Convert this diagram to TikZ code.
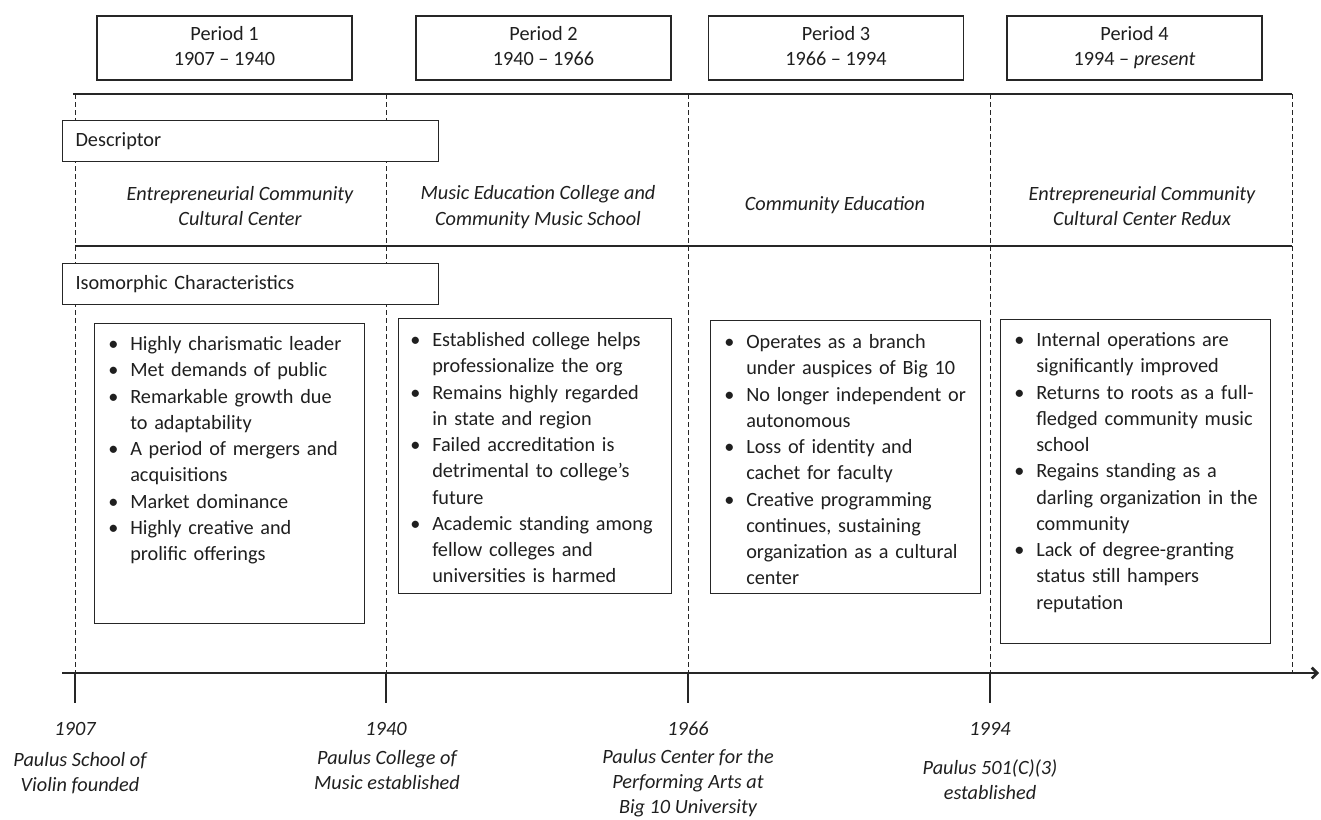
\documentclass[tikz,border=0pt]{standalone}
\usepackage{fontspec}
\setmainfont{Carlito}
\usetikzlibrary{arrows.meta, positioning, calc}
\definecolor{InkGray}{rgb}{0.12, 0.12, 0.12}
\definecolor{RuleGray}{rgb}{0.15, 0.15, 0.15}

% bullet line with hanging indent
\newcommand{\bitem}[1]{\par\rightskip=0pt plus 1fil\relax
  \noindent\hangindent=16.5pt\hangafter=1\makebox[16.5pt][l]{\textbullet}#1}
\newcommand{\nl}{\hfil\break}

\tikzset{
  periodbox/.style={draw=RuleGray, line width=0.8pt, minimum width=191.25pt, minimum height=48pt,
                    inner sep=0pt, align=center},
  labelbox/.style={draw=RuleGray, line width=0.8pt, fill=white, anchor=north west, text width=262.5pt,
                   inner xsep=9.75pt, inner ysep=0pt, minimum height=30.75pt, align=left},
  listbox/.style={draw=RuleGray, line width=0.8pt, anchor=north west, minimum width=202.5pt, inner sep=0pt},
  listtext/.style={anchor=north west, text width=195pt, inner sep=0pt,
                   font=\fontsize{15.2}{19.7}\selectfont},
  desctext/.style={font=\fontsize{15.2}{19}\selectfont\itshape, align=center},
  eventtext/.style={font=\fontsize{15.2}{18.75}\selectfont\itshape, align=center},
  rule/.style={RuleGray, line width=1.6pt},
  divider/.style={RuleGray, line width=0.7pt, dash pattern=on 3.5pt off 2.5pt},
  axisline/.style={RuleGray, line width=2pt}
}

\begin{document}
\begin{tikzpicture}[x=0.75pt, y=-0.75pt, font=\fontsize{15.2}{18.75}\selectfont, text=InkGray]
\useasboundingbox (0,0) rectangle (1321,819);

% periodos
\node[periodbox] (p1) at (224.5,48) {Period 1\\1907 – 1940\vphantom{p}};
\node[periodbox] (p2) at (543.5,48) {Period 2\\1940 – 1966\vphantom{p}};
\node[periodbox] (p3) at (836,48) {Period 3\\1966 – 1994\vphantom{p}};
\node[periodbox] (p4) at (1134.5,48) {Period 4\\1994 – \textit{present}};

% reglas horizontales
\coordinate (topL) at (73,94);
\coordinate (topR) at (1292,94);
\coordinate (midL) at (75,246);
\coordinate (midR) at (1292,246);
\draw[rule] (topL) -- (topR);
\draw[rule] (midL) -- (midR);

% separadores de periodo
\foreach \x in {75,386,688,990,1292}{
    \draw[divider] (\x,94) -- (\x,673);
}

% etiquetas de fila
\node[labelbox] (desc) at (62,120) {Descriptor};
\node[labelbox] (iso) at (62,263) {Isomorphic Characteristics};

% descriptores
\node[desctext] (d1) at (240,206) {Entrepreneurial Community\\Cultural Center};
\node[desctext] (d2) at (538,207) {Music Education College and\\Community Music School};
\node[desctext] (d3) at (835,205) {Community Education};
\node[desctext] (d4) at (1142,206) {Entrepreneurial Community\\Cultural Center Redux};

% caracteristicas
\node[listbox, minimum height=225pt] (l1) at (94,323) {};
\node[listtext] (t1) at (108,324) {%
  \bitem{Highly charismatic leader}
  \bitem{Met demands of public}
  \bitem{Remarkable growth due\nl to adaptability}
  \bitem{A period of mergers and\nl acquisitions}
  \bitem{Market dominance}
  \bitem{Highly creative and\nl prolific offerings}\par};

\node[listbox, minimum width=204.75pt, minimum height=206.25pt] (l2) at (398,318) {};
\node[listtext] (t2) at (410,320) {%
  \bitem{Established college helps\nl professionalize the org}
  \bitem{Remains highly regarded\nl in state and region}
  \bitem{Failed accreditation is\nl detrimental to college’s\nl future}
  \bitem{Academic standing among\nl fellow colleges and\nl universities is harmed}\par};

\node[listbox, minimum height=204.75pt] (l3) at (710,320) {};
\node[listtext] (t3) at (724,322) {%
  \bitem{Operates as a branch\nl under auspices of Big 10}
  \bitem{No longer independent or\nl autonomous}
  \bitem{Loss of identity and\nl cachet for faculty}
  \bitem{Creative programming\nl continues, sustaining\nl organization as a cultural\nl center}\par};

\node[listbox, minimum height=243pt] (l4) at (1000,319) {};
\node[listtext] (t4) at (1014,320) {%
  \bitem{Internal operations are\nl significantly improved}
  \bitem{Returns to roots as a full-\nl fledged community music\nl school}
  \bitem{Regains standing as a\nl darling organization in the\nl community}
  \bitem{Lack of degree-granting\nl status still hampers\nl reputation}\par};

% eje temporal
\coordinate (ax0) at (62,673);
\coordinate (ax1) at (1319,673);
\draw[axisline, -{Straight Barb[length=4pt, width=8pt]}] (ax0) -- (ax1);
\foreach \x/\yr in {75/1907, 386/1940, 688/1966, 990/1994}{
    \draw[axisline] (\x,673) -- (\x,703);
    \node[eventtext] (y\yr) at (\x,729) {\yr};
}

% hitos
\node[eventtext] (e1907) at (80,773) {Paulus School of\\Violin founded};
\node[eventtext] (e1940) at (387,770) {Paulus College of\\Music established};
\node[eventtext] (e1966) at (688,783) {Paulus Center for the\\Performing Arts at\\Big 10 University};
\node[eventtext] (e1994) at (990,780) {Paulus 501(C)(3)\\established};

\end{tikzpicture}
\end{document}
